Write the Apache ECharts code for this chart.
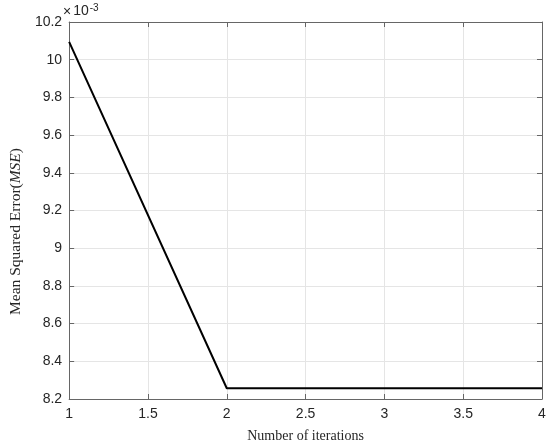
<!DOCTYPE html>
<html>
<head>
<meta charset="utf-8">
<script src="https://cdn.jsdelivr.net/npm/echarts@6/dist/echarts.min.js"></script>
<style>
  html, body { margin: 0; padding: 0; background: #fff; }
  #chart { width: 550px; height: 448px; }
</style>
</head>
<body>
<div id="chart"></div>
<script>
// data (MSE in units of 1e-3)
const iterations = [1, 2, 3, 4];
const mse = [10.095, 8.257, 8.257, 8.257];
const xTicks = [1, 1.5, 2, 2.5, 3, 3.5, 4];
const yTicks = [8.2, 8.4, 8.6, 8.8, 9, 9.2, 9.4, 9.6, 9.8, 10, 10.2];

const axisColor = '#666';
const textColor = '#262626';
const gridColor = '#e5e5e5';

const chart = echarts.init(document.getElementById('chart'));

// matlab-ish labels: 9, 10 without decimals
const tickFmt = v => String(Math.round(v * 10) / 10);

const option = {
  animation: false,
  grid: { left: 63, right: 8, top: 22, bottom: 48, containLabel: false },
  xAxis: [
    {
      type: 'value',
      min: xTicks[0],
      max: xTicks[xTicks.length - 1],
      interval: 0.5,
      name: 'Number of iterations',
      nameLocation: 'middle',
      nameGap: 30,
      nameTextStyle: { fontFamily: 'Liberation Serif', fontSize: 14, color: textColor },
      axisLine: { show: true, lineStyle: { color: axisColor, width: 1 } },
      axisTick: { show: true, inside: true, length: 5, lineStyle: { color: axisColor } },
      axisLabel: { margin: 8, fontFamily: 'Liberation Sans', fontSize: 14, color: textColor, formatter: tickFmt },
      splitLine: { show: true, lineStyle: { color: gridColor, width: 1 } }
    },
    {
      type: 'value',
      position: 'top',
      min: xTicks[0],
      max: xTicks[xTicks.length - 1],
      interval: 0.5,
      axisLine: { show: true, lineStyle: { color: axisColor, width: 1 } },
      axisTick: { show: true, inside: true, length: 5, lineStyle: { color: axisColor } },
      axisLabel: { show: false },
      splitLine: { show: false }
    }
  ],
  yAxis: [
    {
      type: 'value',
      min: yTicks[0],
      max: yTicks[yTicks.length - 1],
      interval: 0.2,
      name: 'Mean Squared Error({i|MSE})',
      nameLocation: 'middle',
      nameGap: 43,
      nameTextStyle: {
        fontFamily: 'Liberation Serif', fontSize: 15.5, color: textColor,
        padding: [0, 42, 0, 0],
        rich: { i: { fontFamily: 'Liberation Serif', fontSize: 15.5, fontStyle: 'italic', color: textColor } }
      },
      axisLine: { show: true, lineStyle: { color: axisColor, width: 1 } },
      axisTick: { show: true, inside: true, length: 5, lineStyle: { color: axisColor } },
      axisLabel: { margin: 7, fontFamily: 'Liberation Sans', fontSize: 14, color: textColor, formatter: tickFmt },
      splitLine: { show: true, lineStyle: { color: gridColor, width: 1 } }
    },
    {
      type: 'value',
      position: 'right',
      min: yTicks[0],
      max: yTicks[yTicks.length - 1],
      interval: 0.2,
      axisLine: { show: true, lineStyle: { color: axisColor, width: 1 } },
      axisTick: { show: true, inside: true, length: 5, lineStyle: { color: axisColor } },
      axisLabel: { show: false },
      splitLine: { show: false }
    }
  ],
  graphic: [
    {
      type: 'text',
      left: 63,
      top: 3,
      style: {
        text: '{x|×}{b|10}{s|-3}',
        rich: {
          x: { fontFamily: 'Liberation Sans', fontSize: 14, fill: textColor, verticalAlign: 'bottom' },
          b: { fontFamily: 'Liberation Sans', fontSize: 14, fill: textColor, padding: [0, 0, 0, 2] },
          s: { fontFamily: 'Liberation Sans', fontSize: 10, fill: textColor, verticalAlign: 'top', padding: [0, 0, 6, 1] }
        }
      }
    }
  ],
  series: [
    {
      type: 'line',
      data: iterations.map((x, i) => [x, mse[i]]),
      showSymbol: false,
      lineStyle: { color: '#000', width: 2 },
      itemStyle: { color: '#000' }
    }
  ]
};

chart.setOption(option);
</script>
</body>
</html>
